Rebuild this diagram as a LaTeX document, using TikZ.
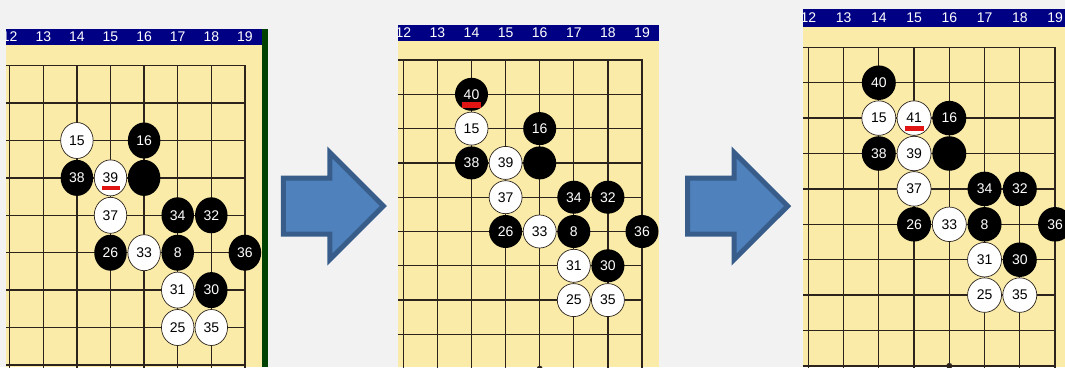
\documentclass[tikz,border=0pt]{standalone}
\usepackage{fontspec}
\setmainfont{Liberation Sans}
\usetikzlibrary{shapes.geometric,shapes.arrows}
\definecolor{bggray}{RGB}{242,242,242}
\definecolor{boardyellow}{RGB}{250,235,168}
\definecolor{headblue}{RGB}{0,0,132}
\definecolor{gridbrown}{RGB}{44,36,28}
\definecolor{edgegreen}{RGB}{0,66,0}
\definecolor{arrowblue}{RGB}{79,129,189}
\definecolor{arrowedge}{RGB}{56,93,138}
\definecolor{markred}{RGB}{225,20,20}

% stones shared by all three boards, #1 = prefix of the names
\newcommand{\placestones}[1]{%
  \node[wstone] (#1s15) at (14,3) {15};
  \node[bstone] (#1s16) at (16,3) {16};
  \node[bstone] (#1s38) at (14,4) {38};
  \node[wstone] (#1s39) at (15,4) {39};
  \node[bstone] (#1blk) at (16,4) {};
  \node[wstone] (#1s37) at (15,5) {37};
  \node[bstone] (#1s34) at (17,5) {34};
  \node[bstone] (#1s32) at (18,5) {32};
  \node[bstone] (#1s26) at (15,6) {26};
  \node[wstone] (#1s33) at (16,6) {33};
  \node[bstone] (#1s8)  at (17,6) {8};
  \node[bstone] (#1s36) at (19,6) {36};
  \node[wstone] (#1s31) at (17,7) {31};
  \node[bstone] (#1s30) at (18,7) {30};
  \node[wstone] (#1s25) at (17,8) {25};
  \node[wstone] (#1s35) at (18,8) {35};
}

% grid, star point and column numbers, #1 = height of the numbers
\newcommand{\drawboard}[1]{%
  \foreach \c in {12,...,19}
    \node[colnum] (num\c) at (\c,#1) {\c};
  \foreach \r in {1,...,10}
    \draw[grid] (11.8,\r) -- (19,\r);
  \foreach \c in {12,...,19}
    \draw[grid] (\c,1) -- (\c,10.6);
  \fill[gridbrown] (16,10) circle (3pt);
}

\begin{document}
\begin{tikzpicture}[
    x=1pt, y=-1pt,
    stonesize/.style={minimum width=33pt, minimum height=33pt},
    stone/.style={
        ellipse,
        inner sep=0pt,
        stonesize,
        font=\fontsize{14}{14}\selectfont
    },
    bstone/.style={stone, fill=black, text=white},
    wstone/.style={stone, fill=white, draw=gridbrown, line width=0.7pt, text=black},
    grid/.style={gridbrown, line width=1.3pt, line cap=rect},
    colnum/.style={text=white, inner sep=0pt, font=\fontsize{14}{14}\selectfont},
    lastmark/.style={fill=markred},
    bigarrow/.style={
        single arrow,
        single arrow head extend=25.5pt,
        single arrow tip angle=90,
        minimum height=100pt,
        inner xsep=0pt,
        inner ysep=25.5pt,
        fill=arrowblue,
        draw=arrowedge,
        line width=5pt,
        line join=miter
    }
]

\clip (0,0) rectangle (1065,367);
\fill[bggray] (0,0) rectangle (1065,367);

% ============================================================
% BOARD 1 — MOVE 39
% ============================================================

\begin{scope}
\clip (6,29) rectangle (262,367);
\fill[boardyellow] (6,29) rectangle (262,367);
\fill[headblue] (6,29) rectangle (262,45);
\begin{scope}[shift={(-393.5,28.3)}, x=33.6pt, y=-37.4pt,
    stonesize/.style={minimum width=32.5pt, minimum height=36pt}]
\drawboard{0.23}
\placestones{a}
\fill[lastmark] ([xshift=-9pt,yshift=-8pt]as39.center)
    rectangle ([xshift=9pt,yshift=-12.5pt]as39.center);
\end{scope}
\end{scope}
\fill[edgegreen] (262,29) rectangle (268,367);

\node[bigarrow, anchor=tail] (arrA) at (280.8,206) {};

% ============================================================
% BOARD 2 — MOVE 40
% ============================================================

\begin{scope}
\clip (398,25) rectangle (659,367);
\fill[boardyellow] (398,25) rectangle (659,367);
\fill[headblue] (398,25) rectangle (659,41);
\begin{scope}[shift={(-5.9,25.7)}, x=34.1pt, y=-34.3pt,
    stonesize/.style={minimum width=33pt, minimum height=33pt}]
\drawboard{0.21}
\placestones{b}
\node[bstone] (bs40) at (14,2) {40};
\fill[lastmark] ([xshift=-9.5pt,yshift=-8pt]bs40.center)
    rectangle ([xshift=9.5pt,yshift=-13.5pt]bs40.center);
\end{scope}
\end{scope}

\node[bigarrow, anchor=tail] (arrB) at (685.2,206) {};

% ============================================================
% BOARD 3 — MOVE 41
% ============================================================

\begin{scope}
\clip (803,9) rectangle (1065,367);
\fill[boardyellow] (803,9) rectangle (1065,367);
\fill[headblue] (803,9) rectangle (1065,27);
\begin{scope}[shift={(385.3,11.9)}, x=35.25pt, y=-35.4pt,
    stonesize/.style={minimum width=34pt, minimum height=34.5pt}]
\drawboard{0.17}
\placestones{c}
\node[bstone] (cs40) at (14,2) {40};
\node[wstone] (cs41) at (15,3) {41};
\fill[lastmark] ([xshift=-9.5pt,yshift=-8pt]cs41.center)
    rectangle ([xshift=9.5pt,yshift=-12.5pt]cs41.center);
\end{scope}
\end{scope}

\end{tikzpicture}
\end{document}
